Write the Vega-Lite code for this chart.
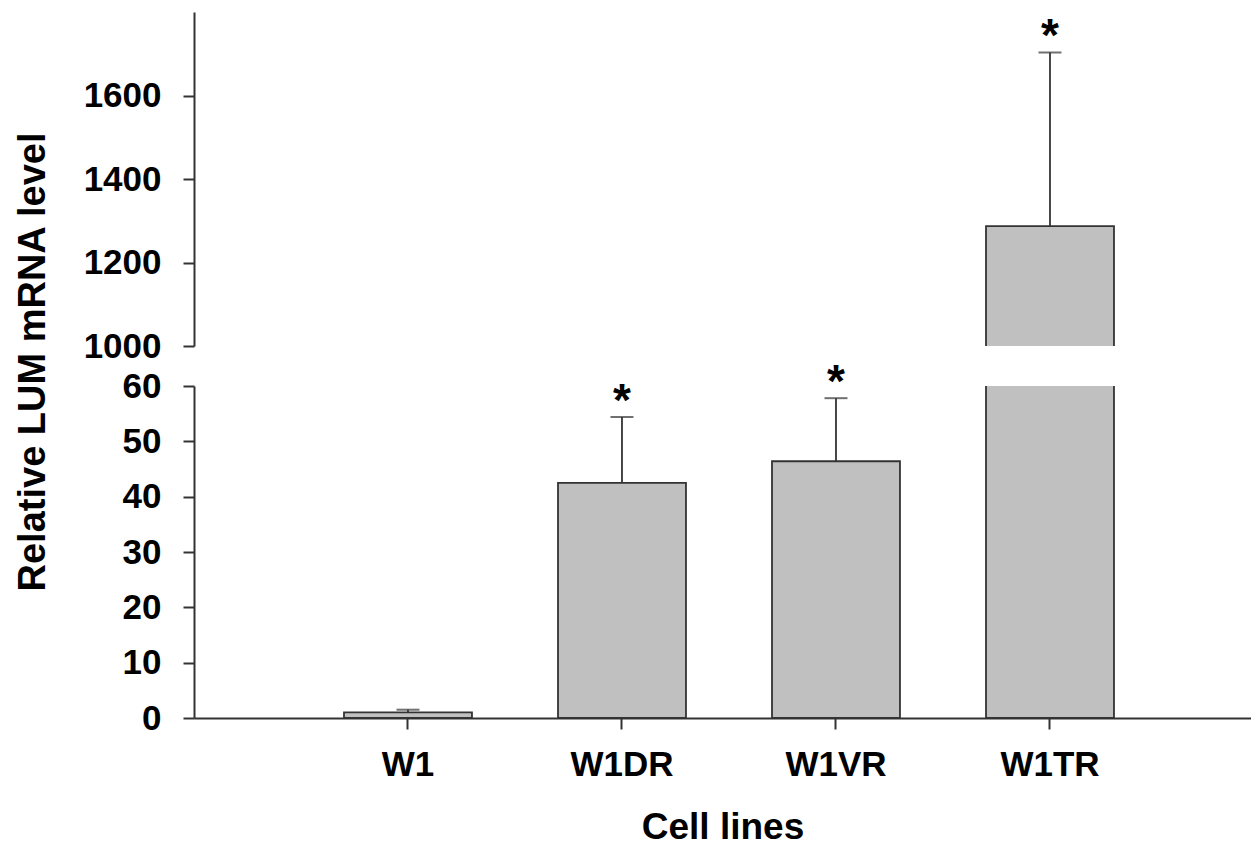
{
  "$schema": "https://vega.github.io/schema/vega-lite/v6.json",
  "padding": {"left": 13, "top": 12, "right": 0, "bottom": 0},
  "background": "white",
  "bounds": "flush",
  "spacing": 40,
  "config": {
    "font": "Liberation Sans",
    "view": {"stroke": null},
    "axis": {
      "domainColor": "#333333",
      "domainWidth": 2,
      "tickColor": "#333333",
      "tickWidth": 2,
      "tickSize": 11,
      "grid": false,
      "labelFont": "Liberation Sans",
      "labelFontWeight": "bold",
      "labelFontSize": 35,
      "labelColor": "#000000",
      "titleFont": "Liberation Sans",
      "titleFontWeight": "bold",
      "titleFontSize": 38,
      "titleColor": "#000000"
    }
  },
  "data": {
    "values": [
      {"line": "W1", "mean": 1.0, "upper": 1.5, "sig": ""},
      {"line": "W1DR", "mean": 42.5, "upper": 54.4, "sig": "*"},
      {"line": "W1VR", "mean": 46.4, "upper": 57.8, "sig": "*"},
      {"line": "W1TR", "mean": 1287, "upper": 1703, "sig": "*"}
    ]
  },
  "resolve": {"scale": {"y": "independent", "x": "shared"}},
  "vconcat": [
    {
      "width": 1057,
      "height": 334,
      "encoding": {
        "x": {
          "field": "line",
          "type": "nominal",
          "sort": ["W1", "W1DR", "W1VR", "W1TR"],
          "scale": {"paddingInner": 0.402, "paddingOuter": 0.6706, "align": 0.5226},
          "axis": null
        }
      },
      "layer": [
        {
          "mark": {"type": "bar", "fill": "#c0c0c0", "stroke": "#333333", "strokeWidth": 1.8, "clip": true},
          "encoding": {
            "y": {
              "field": "mean",
              "type": "quantitative",
              "scale": {"domain": [1000, 1800], "zero": false, "nice": false},
              "axis": {
                "values": [1000, 1200, 1400, 1600],
                "format": "d",
                "title": null,
                "labelPadding": 22
              }
            }
          }
        },
        {
          "transform": [{"filter": "datum.upper > 60"}],
          "mark": {"type": "rule", "stroke": "#333333", "strokeWidth": 1.8, "clip": true},
          "encoding": {
            "y": {"field": "mean", "type": "quantitative"},
            "y2": {"field": "upper"}
          }
        },
        {
          "transform": [{"filter": "datum.upper > 60"}],
          "mark": {"type": "tick", "color": "#333333", "size": 23, "thickness": 2, "orient": "horizontal"},
          "encoding": {
            "y": {"field": "upper", "type": "quantitative"}
          }
        },
        {
          "transform": [{"filter": "datum.upper > 60"}],
          "mark": {"type": "text", "fontSize": 46, "fontWeight": "bold", "baseline": "alphabetic", "dy": -1, "color": "#000000"},
          "encoding": {
            "y": {"field": "upper", "type": "quantitative"},
            "text": {"field": "sig"}
          }
        }
      ]
    },
    {
      "width": 1057,
      "height": 332,
      "encoding": {
        "x": {
          "field": "line",
          "type": "nominal",
          "sort": ["W1", "W1DR", "W1VR", "W1TR"],
          "scale": {"paddingInner": 0.402, "paddingOuter": 0.6706, "align": 0.5226},
          "axis": {
            "title": "Cell lines",
            "labelAngle": 0,
            "labelPadding": 18,
            "titlePadding": 27,
            "titleFontSize": 37
          }
        }
      },
      "layer": [
        {
          "mark": {"type": "bar", "fill": "#c0c0c0", "stroke": "#333333", "strokeWidth": 1.8, "clip": true},
          "encoding": {
            "y": {
              "field": "mean",
              "type": "quantitative",
              "scale": {"domain": [0, 60], "nice": false},
              "axis": {
                "values": [0, 10, 20, 30, 40, 50, 60],
                "title": "Relative LUM mRNA level",
                "labelPadding": 22,
                "titleX": -142,
                "titleY": -24.5,
                "titleAngle": -90,
                "titleAlign": "center",
                "titleBaseline": "bottom"
              }
            }
          }
        },
        {
          "transform": [{"filter": "datum.upper <= 60"}],
          "mark": {"type": "rule", "stroke": "#333333", "strokeWidth": 1.8},
          "encoding": {
            "y": {"field": "mean", "type": "quantitative"},
            "y2": {"field": "upper"}
          }
        },
        {
          "transform": [{"filter": "datum.upper <= 60"}],
          "mark": {"type": "tick", "color": "#333333", "size": 23, "thickness": 2, "orient": "horizontal"},
          "encoding": {
            "y": {"field": "upper", "type": "quantitative"}
          }
        },
        {
          "transform": [{"filter": "datum.upper <= 60"}],
          "mark": {"type": "text", "fontSize": 46, "fontWeight": "bold", "baseline": "alphabetic", "dy": -1, "color": "#000000"},
          "encoding": {
            "y": {"field": "upper", "type": "quantitative"},
            "text": {"field": "sig"}
          }
        }
      ]
    }
  ]
}
